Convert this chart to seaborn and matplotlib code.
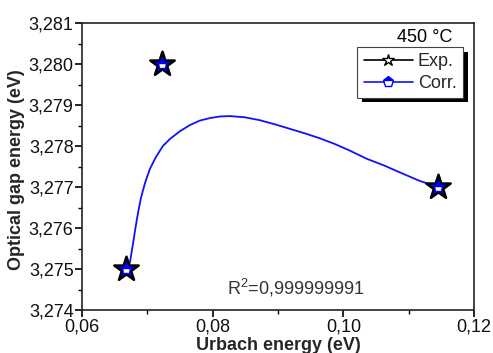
import matplotlib
matplotlib.use("Agg")
import matplotlib.pyplot as plt
import seaborn as sns
import pandas as pd
from matplotlib.lines import Line2D
from matplotlib.patches import Rectangle
from matplotlib.ticker import MultipleLocator, FuncFormatter

# Data
exp_x = [0.0667, 0.0722, 0.1145]
exp_y = [3.275, 3.280, 3.277]

corr_x = [0.0667, 0.06734, 0.06779, 0.06810, 0.06856, 0.06902, 0.06963, 0.07039,
          0.07131, 0.07238, 0.07345, 0.07498, 0.07651, 0.07803, 0.07956, 0.08109,
          0.08262, 0.08491, 0.08720, 0.08950, 0.09179, 0.09408, 0.09637, 0.09867,
          0.10096, 0.10356, 0.10631, 0.10860, 0.11166, 0.1145]
corr_y = [3.27500, 3.27516, 3.27560, 3.27592, 3.27636, 3.27673, 3.27709, 3.27744,
          3.27773, 3.27800, 3.27817, 3.27836, 3.27851, 3.27862, 3.27868, 3.27872,
          3.27873, 3.27870, 3.27863, 3.27853, 3.27842, 3.27831, 3.27819, 3.27805,
          3.27789, 3.27769, 3.27752, 3.27736, 3.27715, 3.27700]

legend_labels = ["Exp.", "Corr."]
temperature_label = "450 °C"
r2_label = "R$^2$=0,999999991"
x_label = "Urbach energy (eV)"
y_label = "Optical gap energy (eV)"

sns.set_style("ticks")
plt.rcParams["font.family"] = ["Liberation Sans", "DejaVu Sans"]
plt.rcParams["mathtext.fontset"] = "custom"
plt.rcParams["mathtext.rm"] = "Liberation Sans"

fig = plt.figure(figsize=(4.93, 3.53), dpi=100)
ax = fig.add_axes([82/493, 1-310/353, 392/493, 287/353])

corr_df = pd.DataFrame({"x": corr_x, "y": corr_y})
exp_df = pd.DataFrame({"x": exp_x, "y": exp_y})

sns.lineplot(data=corr_df, x="x", y="y", sort=False, estimator=None,
             color="#1010ff", linewidth=1.3, ax=ax, zorder=2)
sns.scatterplot(data=exp_df, x="x", y="y", marker="*", s=340,
                color="#0000ff", edgecolor="black", linewidth=1.8, ax=ax, zorder=3)
ax.plot(exp_x, exp_y, linestyle="none", marker="p", markersize=6.5,
        markerfacecolor="#0000ff", markerfacecoloralt="white", fillstyle="top",
        markeredgecolor="#0000ff", markeredgewidth=1.0, zorder=4)

ax.set_xlim(0.06, 0.12)
ax.set_ylim(3.274, 3.281)
ax.xaxis.set_major_locator(MultipleLocator(0.02))
ax.xaxis.set_minor_locator(MultipleLocator(0.01))
ax.yaxis.set_major_locator(MultipleLocator(0.001))
ax.yaxis.set_minor_locator(MultipleLocator(0.0005))
ax.xaxis.set_major_formatter(FuncFormatter(lambda v, p: f"{v:.2f}".replace(".", ",")))
ax.yaxis.set_major_formatter(FuncFormatter(lambda v, p: f"{v:.3f}".replace(".", ",")))

ax.tick_params(axis="both", which="major", direction="out", length=5, width=1.2,
               labelsize=13, pad=1, color="black", labelcolor="#111111")
ax.tick_params(axis="both", which="minor", direction="out", length=3, width=1.0, color="black")
for side in ["left", "bottom", "top", "right"]:
    ax.spines[side].set_visible(True)
    ax.spines[side].set_color("#222222")
    ax.spines[side].set_linewidth(1.2)

ax.set_xlabel(x_label, fontsize=13, fontweight="bold")
ax.set_ylabel(y_label, fontsize=13, fontweight="bold")
ax.xaxis.set_label_coords(0.5, -0.094)
ax.yaxis.set_label_coords(-0.145, 0.49)

ax.text(0.944, 0.949, temperature_label, transform=ax.transAxes, ha="right",
        va="center", fontsize=13, color="black")
ax.text(0.546, 0.078, r2_label, transform=ax.transAxes, ha="center",
        va="center", fontsize=13, color="#333333")

handles = [
    Line2D([], [], color="black", linewidth=1.2, marker="*", markersize=9,
           markerfacecolor="white", markeredgecolor="black", markeredgewidth=1.0),
    Line2D([], [], color="#1010ff", linewidth=1.2, marker="p", markersize=8,
           markerfacecolor="#0000ff", markerfacecoloralt="white", fillstyle="top",
           markeredgecolor="#0000ff", markeredgewidth=1.0),
]
leg = ax.legend(handles, legend_labels, loc="upper right",
                bbox_to_anchor=(0.972, 0.916), borderaxespad=0, fontsize=13,
                frameon=True, fancybox=False, framealpha=1, edgecolor="#444444",
                handlelength=2.7, handletextpad=0.3, borderpad=0.35, labelspacing=0.25)
leg.get_frame().set_linewidth(0.8)
leg.set_zorder(20)

# solid black drop shadow behind the legend box (axes-fraction box)
ax.add_patch(Rectangle((0.714, 0.725), 0.270, 0.174, transform=ax.transAxes,
                       facecolor="black", edgecolor="none", clip_on=False, zorder=19))

fig.savefig("out.png", dpi=100)
